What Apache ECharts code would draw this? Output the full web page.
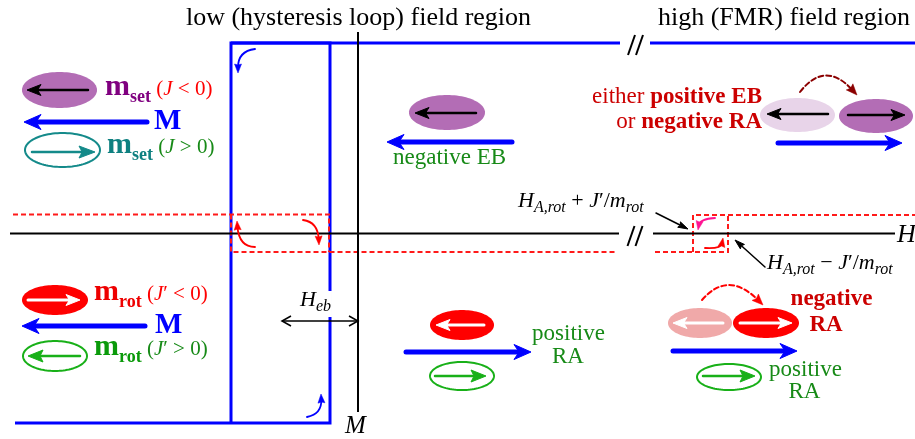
<!DOCTYPE html>
<html>
<head>
<meta charset="utf-8">
<script src="https://cdn.jsdelivr.net/npm/echarts@6/dist/echarts.min.js"></script>
<style>
  html, body { margin: 0; padding: 0; background: #fff; }
  #c { width: 915px; height: 439px; }
</style>
</head>
<body>
<div id="c"></div>
<script>
// Sketch coordinates: x runs along the applied field, y runs down the page.

// Major hysteresis loop of the set layer (solid blue) and its high-field tail
const loopPaths = [
  [[15, 423], [330, 423], [330, 43], [231, 43], [231, 423]],
  [[231, 43], [620, 43]],
  [[650, 43], [915, 43]]
];
// Minor loops of the rotatable layer (dashed red)
const minorPaths = [
  [[13, 214.5], [329, 214.5], [329, 252]],
  [[231, 214.5], [231, 252], [617, 252]],
  [[655, 252], [728, 252], [728, 215]],
  [[693, 252], [693, 215], [915, 215]]
];
// H and M axes
const axisPaths = [
  [[10, 233.5], [619, 233.5]],
  [[653, 233.5], [895, 233.5]],
  [[358, 32], [358, 412]]
];
// Axis-break marks "//"
const breakMarks = [[635.5, 45], [635, 236]];

// Moments drawn as ellipses: [cx, cy, rx, ry]
const setFilled = [[59.5, 90, 37.5, 18], [447, 112.5, 38, 17.5], [876, 116, 37, 17]];
const setFaded = [[797.5, 115, 37.5, 17]];
const setOpen = [[62.5, 150, 37.5, 17]];
const rotFilled = [[55, 300, 33, 15], [462, 325, 32, 15], [766, 323, 33, 15]];
const rotFaded = [[700, 323, 32, 15]];
const rotOpen = [[55, 356, 32, 15], [462, 376, 32, 14], [729, 377, 32, 13]];

// Straight arrows: [x0, y0, x1, y1] (tip at x1, y1)
const mArrows = [[147, 122, 24, 122], [512, 142, 387, 142], [778, 143, 902, 143],
                 [145, 326, 22, 326], [406, 352, 531, 352], [673, 351, 797, 351]];
const setArrows = [[88, 90, 27, 90], [476, 113, 415, 113], [828, 114, 767, 114], [848, 115, 905, 115]];
const setOpenArrows = [[32, 152, 95, 152]];
const rotArrows = [[28, 300, 80, 300], [484, 325, 436, 325], [723, 323, 673, 323], [740, 323, 792, 323]];
const rotOpenArrows = [[80, 356, 28, 356], [435, 376, 486, 376], [703, 376, 755, 376]];
const pointerArrows = [[656, 213, 688, 229], [765, 267, 735, 240]];
const hebSpan = [[282, 321, 358, 321]];

// Curved arrows: [x0, y0, ctrlX, ctrlY, x1, y1]
const blueCurls = [[255, 49, 238, 51, 238, 73], [307, 417, 322, 414, 321, 394]];
const redCurls = [[255, 247, 239, 247, 237, 221], [303, 220, 318, 222, 319, 245], [705, 248, 721, 249, 723, 238]];
const pinkCurls = [[715, 218, 700, 219, 698, 230]];
const setSwitch = [[800, 92, 825, 60, 857, 95]];
const rotSwitch = [[702, 300, 728, 270, 763, 305]];

// Colours
const BLUE = '#0000ff', RED = '#ff0000', DRED = '#cc0000', PURPLE = '#800080',
      TEAL = '#0e8080', GREEN = '#178a17', GREENB = '#0a9a0a';

const SERIF = "'Liberation Serif','Times New Roman',Times,serif";
// font keys: [size, bold, italic]
const FONTS = {
  title: [26, 0, 0], big: [30, 1, 0], sub: [18, 1, 0], M: [29, 1, 0],
  par: [21, 0, 0], parI: [21, 0, 1], body: [23, 0, 0], bodyB: [23, 1, 0],
  ann: [22, 0, 1], annSub: [16, 0, 1], annR: [22, 0, 0], axH: [26, 0, 1], axM: [25, 0, 1]
};
function fontStr(k) {
  const f = FONTS[k];
  return (f[2] ? 'italic ' : '') + (f[1] ? 'bold ' : '') + f[0] + 'px ' + SERIF;
}

// Text labels: anchor = [x, baseline]; runs = [text, font, colour, baselineShift]
const labels = [
  { at: [358.5, 27], align: 'center', runs: [['low (hysteresis loop) field region', 'title', '#000']] },
  { at: [784, 27], align: 'center', runs: [['high (FMR) field region', 'title', '#000']] },
  { at: [105, 97], runs: [['m', 'big', PURPLE], ['set', 'sub', PURPLE, 6], [' (', 'par', RED], ['J', 'parI', RED], [' < 0)', 'par', RED]] },
  { at: [154, 131], runs: [['M', 'M', BLUE]] },
  { at: [107, 155], runs: [['m', 'big', TEAL], ['set', 'sub', TEAL, 6], [' (', 'par', GREEN], ['J', 'parI', GREEN], [' > 0)', 'par', GREEN]] },
  { at: [94, 302], runs: [['m', 'big', '#ee0000'], ['rot', 'sub', '#ee0000', 6], [' (', 'par', RED], ['J', 'parI', RED], ['\u2032 < 0)', 'par', RED]] },
  { at: [155, 335], runs: [['M', 'M', BLUE]] },
  { at: [94, 357], runs: [['m', 'big', GREENB], ['rot', 'sub', GREENB, 6], [' (', 'par', GREEN], ['J', 'parI', GREEN], ['\u2032 > 0)', 'par', GREEN]] },
  { at: [449.5, 166], align: 'center', runs: [['negative EB', 'body', GREEN]] },
  { at: [762, 105], align: 'right', runs: [['either ', 'body', DRED], ['positive EB', 'bodyB', DRED]] },
  { at: [762, 130], align: 'right', runs: [['or ', 'body', DRED], ['negative RA', 'bodyB', DRED]] },
  { at: [518, 209], runs: [['H', 'ann', '#000'], ['A,rot', 'annSub', '#000', 4], [' + ', 'annR', '#000'], ['J', 'ann', '#000'], ['\u2032/', 'annR', '#000'], ['m', 'ann', '#000'], ['rot', 'annSub', '#000', 4]] },
  { at: [767, 271], runs: [['H', 'ann', '#000'], ['A,rot', 'annSub', '#000', 4], [' \u2212 ', 'annR', '#000'], ['J', 'ann', '#000'], ['\u2032/', 'annR', '#000'], ['m', 'ann', '#000'], ['rot', 'annSub', '#000', 4]] },
  { at: [897, 244], runs: [['H', 'axH', '#000']] },
  { at: [345, 435], runs: [['M', 'axM', '#000']] },
  { at: [300, 308], bg: true, runs: [['H', 'ann', '#000'], ['eb', 'annSub', '#000', 4]] },
  { at: [568.5, 342], align: 'center', runs: [['positive', 'body', GREEN]] },
  { at: [568, 365], align: 'center', runs: [['RA', 'body', GREEN]] },
  { at: [831.5, 307], align: 'center', runs: [['negative', 'bodyB', DRED]] },
  { at: [826, 333], align: 'center', runs: [['RA', 'bodyB', DRED]] },
  { at: [805.5, 378], align: 'center', runs: [['positive', 'body', GREEN]] },
  { at: [804.5, 400], align: 'center', runs: [['RA', 'body', GREEN]] }
];

const mctx = document.createElement('canvas').getContext('2d');
function textWidth(t, k) { mctx.font = fontStr(k); return mctx.measureText(t).width; }

// ---------- drawing helpers ----------
function headPoints(tip, ux, uy, hl, hw, notch) {
  const nx = -uy, ny = ux;
  const bx = tip[0] - ux * hl, by = tip[1] - uy * hl;
  return [tip, [bx + nx * hw / 2, by + ny * hw / 2],
          [tip[0] - ux * hl * (1 - notch), tip[1] - uy * hl * (1 - notch)],
          [bx - nx * hw / 2, by - ny * hw / 2]];
}
function straightArrow(a, b, st) {
  const dx = b[0] - a[0], dy = b[1] - a[1], L = Math.hypot(dx, dy), ux = dx / L, uy = dy / L;
  const back = st.hl * (1 - st.notch) + 0.5;
  const e = [b[0] - ux * back, b[1] - uy * back];
  return [
    { type: 'line', shape: { x1: a[0], y1: a[1], x2: e[0], y2: e[1] },
      style: { stroke: st.c, lineWidth: st.w, lineCap: 'round' } },
    { type: 'polygon', shape: { points: headPoints(b, ux, uy, st.hl, st.hw, st.notch) },
      style: { fill: st.c, stroke: st.c, lineWidth: 1, lineJoin: 'round' } }
  ];
}
function openHead(tip, ux, uy, hl, hw) {
  const nx = -uy, ny = ux, bx = tip[0] - ux * hl, by = tip[1] - uy * hl;
  return [[bx + nx * hw / 2, by + ny * hw / 2], tip, [bx - nx * hw / 2, by - ny * hw / 2]];
}
function curvedArrow(a, c, b, st) {
  const dx = b[0] - c[0], dy = b[1] - c[1], L = Math.hypot(dx, dy), ux = dx / L, uy = dy / L;
  const back = st.hl * 0.6;
  const e = [b[0] - ux * back, b[1] - uy * back];
  const style = { stroke: st.c, lineWidth: st.w, fill: null, lineCap: 'round' };
  if (st.dash) style.lineDash = st.dash;
  return [
    { type: 'bezierCurve', shape: { x1: a[0], y1: a[1], cpx1: c[0], cpy1: c[1], x2: e[0], y2: e[1] }, style },
    { type: 'polygon', shape: { points: headPoints(b, ux, uy, st.hl, st.hw, st.notch) },
      style: { fill: st.c, stroke: st.c, lineWidth: 0.5 } }
  ];
}

const base = { type: 'custom', coordinateSystem: 'cartesian2d', encode: { x: 0, y: 1 },
               silent: true, animation: false, clip: false };
function layer(z, items, key, draw) {
  return Object.assign({}, base, {
    z,
    data: items.map(key),
    renderItem: (params, api) => draw(items[params.dataIndex], api)
  });
}
const firstPoint = p => p[0];
const firstTwo = d => [d[0], d[1]];

function pathLayer(z, paths, style) {
  return layer(z, paths, firstPoint, (p, api) => ({
    type: 'polyline', shape: { points: p.map(q => api.coord(q)) },
    style: Object.assign({ fill: null }, style)
  }));
}
function ellipseLayer(z, items, style) {
  return layer(z, items, firstTwo, (d, api) => {
    const c = api.coord([d[0], d[1]]);
    const s = api.size([d[2], d[3]], [d[0], d[1]]);
    const pts = [];
    for (let i = 0; i < 96; i++) {
      const t = i / 96 * Math.PI * 2;
      pts.push([c[0] + s[0] * Math.cos(t), c[1] + s[1] * Math.sin(t)]);
    }
    return { type: 'polygon', shape: { points: pts }, style: Object.assign({}, style) };
  });
}
function arrowLayer(z, items, st) {
  return layer(z, items, firstTwo, (d, api) => ({
    type: 'group', children: straightArrow(api.coord([d[0], d[1]]), api.coord([d[2], d[3]]), st)
  }));
}
function curlLayer(z, items, st) {
  return layer(z, items, firstTwo, (d, api) => ({
    type: 'group',
    children: curvedArrow(api.coord([d[0], d[1]]), api.coord([d[2], d[3]]), api.coord([d[4], d[5]]), st)
  }));
}

const series = [
  pathLayer(2, loopPaths, { stroke: BLUE, lineWidth: 3, lineJoin: 'miter' }),
  pathLayer(3, minorPaths, { stroke: '#ff1a1a', lineWidth: 2, lineDash: [5, 3] }),
  pathLayer(4, axisPaths, { stroke: '#000', lineWidth: 2 }),
  layer(4, breakMarks, d => d, (d, api) => {
    const c = api.coord(d);
    return { type: 'group', children: [-4, 4].map(o => ({
      type: 'line', shape: { x1: c[0] + o - 3.5, y1: c[1] + 10, x2: c[0] + o + 3.5, y2: c[1] - 10 },
      style: { stroke: '#000', lineWidth: 2 } })) };
  }),
  ellipseLayer(5, setFilled, { fill: '#b36db5' }),
  ellipseLayer(5, setFaded, { fill: '#e8d4e9' }),
  ellipseLayer(5, setOpen, { fill: '#fff', stroke: '#148a8a', lineWidth: 2 }),
  ellipseLayer(5, rotFilled, { fill: '#ff0000' }),
  ellipseLayer(5, rotFaded, { fill: '#f0a9a9' }),
  ellipseLayer(5, rotOpen, { fill: '#fff', stroke: '#18b018', lineWidth: 2 }),
  arrowLayer(6, mArrows, { c: BLUE, w: 5, hl: 17, hw: 15, notch: 0.3 }),
  arrowLayer(6, setArrows, { c: '#000', w: 2.5, hl: 14, hw: 11, notch: 0.25 }),
  arrowLayer(6, setOpenArrows, { c: '#148a8a', w: 2.5, hl: 16, hw: 12, notch: 0.2 }),
  arrowLayer(6, rotArrows, { c: '#fff', w: 3, hl: 14, hw: 11, notch: 0.25 }),
  arrowLayer(6, rotOpenArrows, { c: '#18b018', w: 2.5, hl: 15, hw: 12, notch: 0.2 }),
  arrowLayer(6, pointerArrows, { c: '#000', w: 1.5, hl: 10, hw: 6, notch: 0.15 }),
  layer(8, hebSpan, firstTwo, (d, api) => {
    const a = api.coord([d[0], d[1]]), b = api.coord([d[2], d[3]]);
    const st = { stroke: '#000', lineWidth: 1.5, fill: null };
    return { type: 'group', children: [
      { type: 'line', shape: { x1: a[0], y1: a[1], x2: b[0], y2: b[1] }, style: st },
      { type: 'polyline', shape: { points: openHead(b, 1, 0, 9, 10) }, style: st },
      { type: 'polyline', shape: { points: openHead(a, -1, 0, 9, 10) }, style: st }
    ] };
  }),
  curlLayer(6, blueCurls, { c: BLUE, w: 1.8, hl: 9, hw: 7, notch: 0.1 }),
  curlLayer(6, redCurls, { c: RED, w: 1.8, hl: 9, hw: 7, notch: 0.1 }),
  curlLayer(6, pinkCurls, { c: '#ff1493', w: 1.8, hl: 9, hw: 7, notch: 0.1 }),
  curlLayer(6, setSwitch, { c: '#8b0000', w: 2, hl: 11, hw: 9, notch: 0.15, dash: [5, 3] }),
  curlLayer(6, rotSwitch, { c: RED, w: 2, hl: 11, hw: 9, notch: 0.15, dash: [5, 3] }),
  layer(7, labels, l => l.at, (L, api) => {
    const p = api.coord(L.at);
    const widths = L.runs.map(r => textWidth(r[0], r[1]));
    const total = widths.reduce((s, w) => s + w, 0);
    let x = L.align === 'center' ? p[0] - total / 2 : L.align === 'right' ? p[0] - total : p[0];
    const children = [];
    if (L.bg) {
      children.push({ type: 'rect', shape: { x: x - 1, y: p[1] - 17, width: total + 2, height: 26 },
                      style: { fill: '#fff' } });
    }
    L.runs.forEach((r, i) => {
      const sz = FONTS[r[1]][0];
      children.push({ type: 'text', style: {
        text: r[0], x, y: p[1] - 0.34 * sz + (r[3] || 0), font: fontStr(r[1]),
        fill: r[2], align: 'left', verticalAlign: 'middle' } });
      x += widths[i];
    });
    return { type: 'group', children };
  })
];

const chart = echarts.init(document.getElementById('c'), null, { renderer: 'canvas' });
chart.setOption({
  animation: false,
  backgroundColor: '#fff',
  grid: { left: 0, right: 0, top: 0, bottom: 0 },
  xAxis: { type: 'value', min: 0, max: 915, show: false },
  yAxis: { type: 'value', min: 0, max: 439, inverse: true, show: false },
  series
});
</script>
</body>
</html>
